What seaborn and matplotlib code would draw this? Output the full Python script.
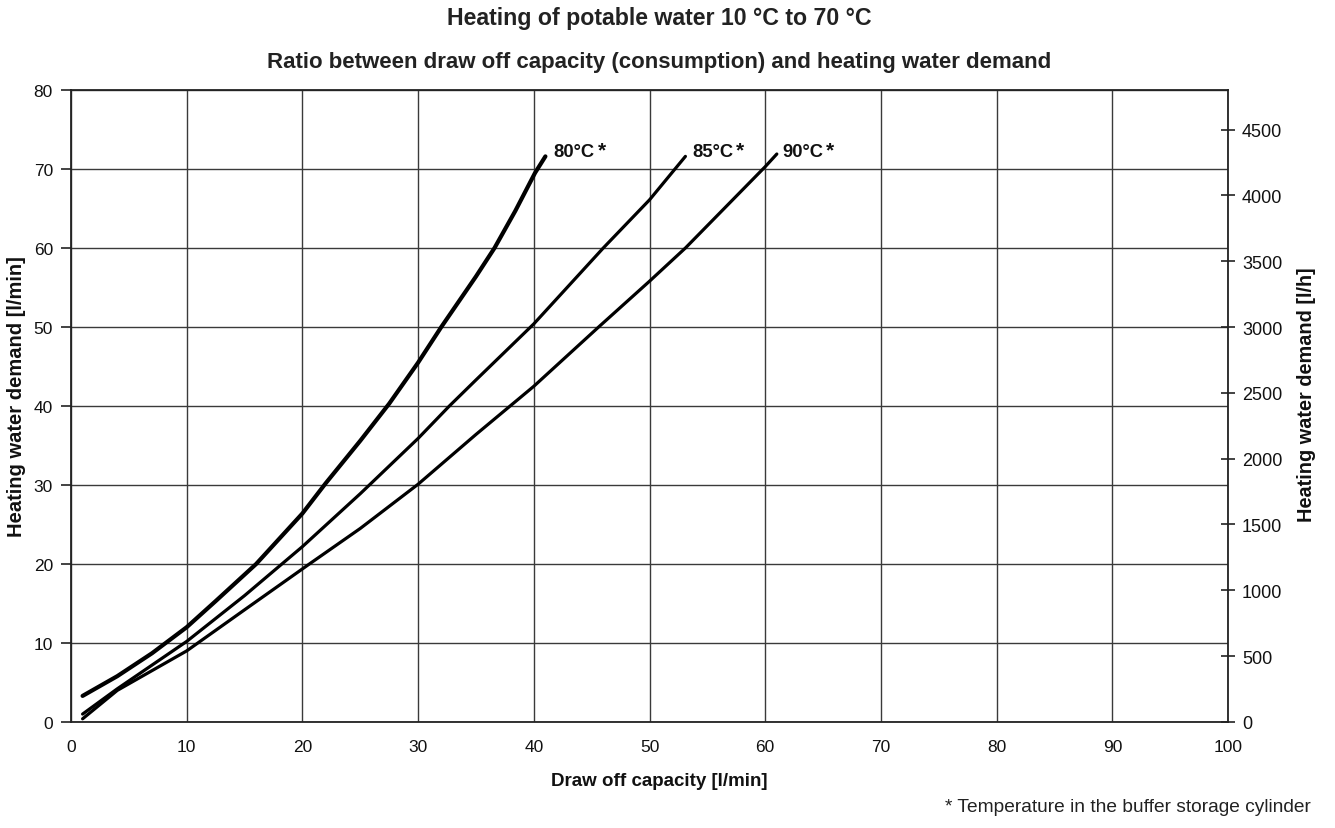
import matplotlib
matplotlib.use("Agg")
import matplotlib.pyplot as plt
import seaborn as sns
import pandas as pd

# Draw-off capacity [l/min] vs heating water demand [l/min] per buffer temperature
x_80 = [1, 4, 7, 10, 12.5, 16, 20, 22, 25, 27.5, 30, 32, 35, 36.6, 38.4, 40.1, 41]
y_80 = [3.3, 5.8, 8.7, 12.0, 15.3, 20.0, 26.4, 30.2, 35.6, 40.3, 45.5, 50.0, 56.4, 60.0, 64.7, 69.5, 71.6]

x_85 = [1, 4, 10, 15, 20, 25, 30, 32.7, 35, 40, 46, 50, 53.1]
y_85 = [1.0, 4.2, 10.2, 16.0, 22.2, 28.9, 35.9, 40.0, 43.3, 50.4, 60.0, 66.1, 71.6]

x_90 = [1, 4, 10, 15, 20.6, 25, 30, 35, 40, 45.6, 50, 53.1, 60, 61]
y_90 = [0.4, 4.0, 9.0, 14.2, 20.0, 24.5, 30.1, 36.4, 42.5, 50.0, 55.8, 60.0, 70.3, 71.9]

curve_labels = ["80°C", "85°C", "90°C"]

x_ticks = list(range(0, 101, 10))
y_ticks = list(range(0, 81, 10))
y2_ticks = list(range(0, 4501, 500))

sns.set_theme(style="white")
plt.rcParams["font.family"] = ["Liberation Sans", "DejaVu Sans"]

frames = []
for lab, xs, ys in zip(curve_labels, [x_80, x_85, x_90], [y_80, y_85, y_90]):
    frames.append(pd.DataFrame({"draw": xs, "demand": ys, "temp": lab}))
df = pd.concat(frames, ignore_index=True)

fig = plt.figure(figsize=(13.35, 8.29), dpi=100)
ax = fig.add_axes([0.0532, 0.1279, 0.8667, 0.7623])

widths = {"80°C": 3.0, "85°C": 2.3, "90°C": 2.3}
for lab in curve_labels:
    sub = df[df["temp"] == lab]
    sns.lineplot(data=sub, x="draw", y="demand", ax=ax, color="black",
                 linewidth=widths[lab], sort=False, estimator=None,
                 legend=False)

ax.set_xlim(0, 100)
ax.set_ylim(0, 80)
ax.set_xticks(x_ticks)
ax.set_yticks(y_ticks)
ax.grid(True, color="#3a3a3a", linewidth=1.0)
ax.set_axisbelow(True)
for s in ax.spines.values():
    s.set_color("#222222")
    s.set_linewidth(1.3)
ax.tick_params(axis="both", direction="out", length=7, width=1.2,
               color="#222222", labelsize=12.5, pad=6, labelcolor="#111111")
ax.tick_params(axis="x", length=5, pad=7)
ax.set_xlabel("Draw off capacity [l/min]", fontsize=13.5, fontweight="bold",
              color="#111111", va="center")
ax.xaxis.set_label_coords(0.508, -0.092)
ax.set_ylabel("Heating water demand [l/min]", fontsize=14.5, fontweight="bold",
              color="#111111", va="center")
ax.yaxis.set_label_coords(-0.0467, 0.516)

# Right-hand axis in litres per hour
ax2 = ax.twinx()
ax2.set_ylim(0, 80 * 60)
ax2.set_yticks(y2_ticks)
ax2.grid(False)
ax2.tick_params(axis="y", direction="inout", length=10, width=1.2,
                color="#222222", labelsize=13, pad=5, labelcolor="#111111")
for s in ax2.spines.values():
    s.set_visible(False)
ax2.set_ylabel("Heating water demand [l/h]", fontsize=14.3, fontweight="bold",
               color="#111111", va="center")
ax2.yaxis.set_label_coords(1.068, 0.519)

# Curve labels with raised asterisk
label_pos = [(41.7, 72.2), (53.7, 72.2), (61.5, 72.2)]
for lab, (tx, ty) in zip(curve_labels, label_pos):
    t = ax.text(tx, ty, lab, fontsize=13.2, fontweight="bold", ha="left",
                va="center", color="#111111")
    ax.annotate("*", xy=(1, 0.5), xycoords=t, xytext=(2, 1.5),
                textcoords="offset points", fontsize=15, fontweight="bold",
                ha="left", va="center", color="#111111")

fig.text(0.494, 0.992, "Heating of potable water 10 °C to 70 °C",
         fontsize=16.7, fontweight="bold", ha="center", va="top",
         color="#222222")
fig.text(0.494, 0.937,
         "Ratio between draw off capacity (consumption) and heating water demand",
         fontsize=16, fontweight="bold", ha="center", va="top", color="#222222")
fig.text(0.982, 0.016, "* Temperature in the buffer storage cylinder",
         fontsize=13.75, ha="right", va="bottom", color="#222222")

fig.savefig("out.png", dpi=100)
